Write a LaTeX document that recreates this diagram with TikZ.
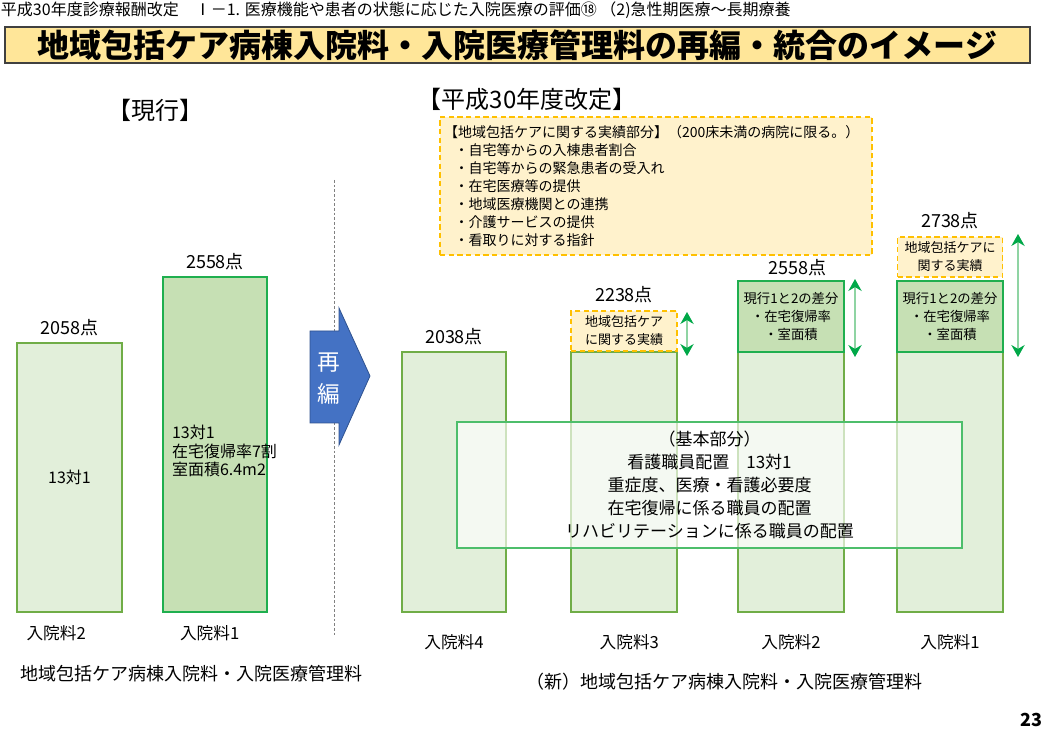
\documentclass[tikz,border=0pt]{standalone}
\usepackage{fontspec}
\setmainfont{Noto Sans CJK JP}
\usepackage{tikz}
\usetikzlibrary{positioning, arrows.meta}
\definecolor{barfill}{HTML}{E2EFDA}
\definecolor{barfilldark}{HTML}{C6E0B4}
\definecolor{barline}{HTML}{70AD47}
\definecolor{barlinedark}{HTML}{1FAF4F}
\definecolor{basicline}{HTML}{4DBE6B}
\definecolor{carefill}{HTML}{FFF2CC}
\definecolor{careline}{HTML}{FFC000}
\definecolor{titlefill}{HTML}{FFE699}
\definecolor{arrowblue}{HTML}{4472C4}
\definecolor{arrowblueline}{HTML}{2F528F}
\definecolor{dimgreen}{HTML}{00A848}
\definecolor{dimline}{HTML}{8FD4A3}

\begin{document}
\begin{tikzpicture}[
    x=0.75pt, y=-0.75pt,
    every node/.style={inner sep=0pt, outer sep=0pt},
    bar/.style={rectangle, draw=barline, fill=barfill, line width=1.5pt, anchor=south west},
    bardark/.style={rectangle, draw=barlinedark, fill=barfilldark, line width=1.5pt, anchor=south west, align=center, font=\fontsize{10pt}{13.5pt}\selectfont},
    carebox/.style={rectangle, draw=careline, fill=carefill, dash pattern=on 4pt off 2.5pt, line width=1.3pt, align=center, font=\fontsize{9.75pt}{13.5pt}\selectfont},
    points/.style={font=\fontsize{13.5pt}{16pt}\selectfont},
    rank/.style={font=\fontsize{12.5pt}{14pt}\selectfont},
    caption/.style={font=\fontsize{13.5pt}{16pt}\selectfont},
    dimarrow/.style={draw=dimline, line width=1pt, {Stealth[color=dimgreen, length=9pt, width=10pt]}-{Stealth[color=dimgreen, length=9pt, width=10pt]}}
]
    \useasboundingbox (0,0) rectangle (1047,730);

    % 見出し
    \node[anchor=west, font=\fontsize{12pt}{14pt}\selectfont] (header) at (1,10) {平成30年度診療報酬改定　Ⅰ－1. 医療機能や患者の状態に応じた入院医療の評価⑱ （2)急性期医療～長期療養};
    \node[draw=black!75, fill=titlefill, line width=1pt, minimum width=768.75pt, minimum height=27pt, anchor=north west, font=\bfseries\fontsize{24pt}{26pt}\selectfont] (title) at (5,27) {地域包括ケア病棟入院料・入院医療管理料の再編・統合のイメージ};

    \node[font=\fontsize{18pt}{20pt}\selectfont] (nowhead) at (155,110) {【現行】};
    \node[font=\fontsize{18pt}{20pt}\selectfont] (newhead) at (527,99) {【平成30年度改定】};

    \coordinate (divtop) at (334,180);
    \coordinate (divbot) at (334,635);
    \path[draw, gray, dash pattern=on 2pt off 1.5pt, line width=0.5pt] (divtop) -- (divbot);

    % 現行
    \node[bar, minimum width=78.75pt, minimum height=201.75pt, font=\fontsize{12pt}{14pt}\selectfont] (nowtwo) at (17,612) {13対1};
    \node[bardark, minimum width=78pt, minimum height=251.25pt] (nowone) at (163,612) {};
    \node[anchor=west, align=left, font=\fontsize{12pt}{14pt}\selectfont] (nowonetext) at (172,451) {13対1\\在宅復帰率7割\\室面積6.4m2};

    \node[points, above=5pt of nowtwo] (nowtwopts) {2058点};
    \node[points, above=5pt of nowone] (nowonepts) {2558点};
    \node[rank, below=10pt of nowtwo, xshift=-10pt] (nowtworank) {入院料2};
    \node[rank, below=10pt of nowone, xshift=-4pt] (nowonerank) {入院料1};
    \node[caption] (nowcaption) at (192,674) {地域包括ケア病棟入院料・入院医療管理料};

    % 再編の矢印
    \path[draw=arrowblueline, fill=arrowblue, line width=0.6pt] (310,331) -- (339,331) -- (339,308) -- (370,376) -- (339,445) -- (339,423) -- (310,423) -- cycle;
    \node[text=white, align=center, font=\fontsize{17pt}{24pt}\selectfont] (saihen) at (329,379) {再\\編};

    % 平成30年度改定
    \node[carebox, align=left, anchor=north west, text width=318pt, inner xsep=3pt, minimum height=103.5pt, font=\fontsize{10.5pt}{13.5pt}\selectfont] (carelist) at (440,117) {%
        【地域包括ケアに関する実績部分】（200床未満の病院に限る。）\\
        \hspace*{8pt}・自宅等からの入棟患者割合\\
        \hspace*{8pt}・自宅等からの緊急患者の受入れ\\
        \hspace*{8pt}・在宅医療等の提供\\
        \hspace*{8pt}・地域医療機関との連携\\
        \hspace*{8pt}・介護サービスの提供\\
        \hspace*{8pt}・看取りに対する指針};

    \node[bar, minimum width=78pt, minimum height=195pt] (newfour) at (402,612) {};
    \node[bar, minimum width=79.5pt, minimum height=195pt] (newthree) at (571,612) {};
    \node[bar, minimum width=79.5pt, minimum height=195pt] (newtwo) at (738,612) {};
    \node[bar, minimum width=79.5pt, minimum height=195pt] (newone) at (897,612) {};

    \node[carebox, minimum width=79.5pt, minimum height=30pt, above=0.75pt of newthree] (newthreecare) {地域包括ケア\\に関する実績};
    \node[bardark, minimum width=79.5pt, minimum height=53.25pt] (newtwodiff) at (738,352) {現行1と2の差分\\・在宅復帰率\\・室面積};
    \node[bardark, minimum width=79.5pt, minimum height=53.25pt] (newonediff) at (897,352) {現行1と2の差分\\・在宅復帰率\\・室面積};
    \node[carebox, minimum width=78.75pt, minimum height=30pt, above=3pt of newonediff] (newonecare) {地域包括ケアに\\関する実績};

    \node[points, above=5pt of newfour] (newfourpts) {2038点};
    \node[points, above=6pt of newthreecare] (newthreepts) {2238点};
    \node[points, above=4pt of newtwodiff, xshift=5pt] (newtwopts) {2558点};
    \node[points, above=6pt of newonecare] (newonepts) {2738点};

    % 差分の矢印
    \coordinate (threeup) at (687,312);
    \coordinate (threedown) at (687,356);
    \coordinate (twoup) at (855,279);
    \coordinate (twodown) at (855,357);
    \coordinate (oneup) at (1018,234);
    \coordinate (onedown) at (1018,357);
    \path[dimarrow] (threeup) -- (threedown);
    \path[dimarrow] (twoup) -- (twodown);
    \path[dimarrow] (oneup) -- (onedown);

    \node[draw=basicline, fill=white, fill opacity=0.65, text opacity=1, line width=1.3pt, minimum width=378.75pt, minimum height=94.5pt, anchor=north west, align=center, font=\fontsize{12.75pt}{17.25pt}\selectfont] (basic) at (457,422) {（基本部分）\\看護職員配置　13対1\\重症度、医療・看護必要度\\在宅復帰に係る職員の配置\\リハビリテーションに係る職員の配置};

    \node[rank, below=17pt of newfour] (newfourrank) {入院料4};
    \node[rank, below=17pt of newthree, xshift=4pt] (newthreerank) {入院料3};
    \node[rank, below=17pt of newtwo] (newtworank) {入院料2};
    \node[rank, below=17pt of newone] (newonerank) {入院料1};
    \node[caption] (newcaption) at (724,682) {（新）地域包括ケア病棟入院料・入院医療管理料};

    \node[font=\bfseries\fontsize{13.5pt}{16pt}\selectfont] (pagenum) at (1031,720) {23};
\end{tikzpicture}
\end{document}
